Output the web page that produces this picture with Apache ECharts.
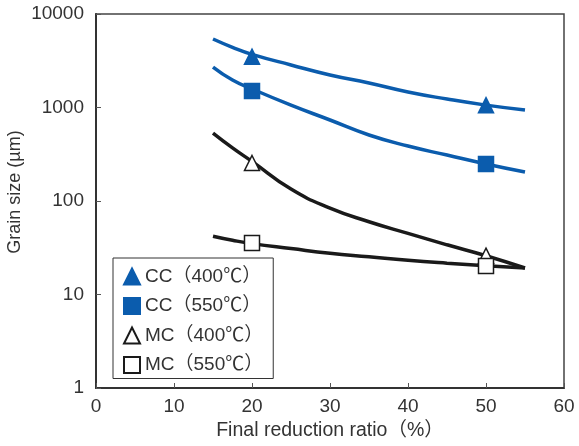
<!DOCTYPE html>
<html>
<head>
<meta charset="utf-8">
<script src="https://cdn.jsdelivr.net/npm/echarts@6/dist/echarts.min.js"></script>
<style>
  html, body { margin: 0; padding: 0; background: #fff; }
  #main { width: 579px; height: 446px; }
</style>
</head>
<body>
<div id="main"></div>
<script>
  // x positions of the fitted curves (final reduction ratio, %)
  const curveX = [15, 17.5, 20, 25, 30, 35, 40, 45, 50, 55];
  // grain size along each curve (µm)
  const cc400Curve = [5400, 4400, 3700, 2850, 2230, 1830, 1465, 1232, 1060, 940];
  const cc550Curve = [2710, 1970, 1580, 1060, 735, 508, 387, 310, 249, 204];
  const mc400Curve = [533, 370, 265, 134, 84, 60, 45, 34, 26, 19.2];
  const mc550Curve = [42, 38, 35, 31, 27.6, 25.3, 23.2, 21.6, 20.3, 19.2];

  // measured points
  const pointX = [20, 50];
  const cc400Points = [3500, 1060];
  const cc550Points = [1500, 249];
  const mc400Points = [255, 26];
  const mc550Points = [35.5, 20.2];

  const seriesNames = ["CC（400℃）", "CC（550℃）", "MC（400℃）", "MC（550℃）"];

  const blue = "#0b5cad";
  const black = "#1a1a1a";
  const font = "Liberation Sans, Arial, Noto Sans CJK JP, sans-serif";

  function pair(xs, ys) {
    return xs.map(function(x, i) {
      return [x, ys[i]];
    });
  }

  function curve(name, ys, color) {
    return {
      type: "line",
      name: name,
      data: pair(curveX, ys),
      smooth: true,
      showSymbol: false,
      lineStyle: { color: color, width: 3.5 },
      z: 2,
      silent: true
    };
  }

  function points(name, ys, symbol, fill, border) {
    return {
      type: "scatter",
      name: name,
      data: pair(pointX, ys),
      symbol: symbol,
      symbolSize: 15,
      itemStyle: { color: fill, borderColor: border, borderWidth: 1.5, opacity: 1 },
      z: 5
    };
  }

  const chart = echarts.init(document.getElementById("main"), null, { renderer: "canvas" });

  const option = {
    animation: false,
    textStyle: { fontFamily: font },
    grid: {
      left: 96,
      right: 15,
      top: 14,
      bottom: 58,
      containLabel: false,
      outerBoundsMode: "none",
      show: true,
      borderColor: "#444",
      borderWidth: 1.5
    },
    legend: {
      data: seriesNames,
      orient: "vertical",
      left: 113,
      top: 258,
      itemWidth: 16,
      itemHeight: 16,
      itemGap: 10.5,
      padding: [9, 10, 4, 10],
      borderColor: "#333",
      borderWidth: 1,
      backgroundColor: "#fff",
      textStyle: { fontSize: 19, color: "#333", fontFamily: font, width: 109, overflow: "none" }
    },
    xAxis: {
      type: "value",
      min: 0,
      max: 60,
      interval: 10,
      name: "Final reduction ratio（%）",
      nameLocation: "middle",
      nameGap: 33,
      nameTextStyle: { fontSize: 19.5, color: "#333" },
      axisLine: { lineStyle: { color: "#333", width: 2 } },
      axisTick: { inside: true, length: 5, lineStyle: { color: "#555" } },
      axisLabel: { fontSize: 19, color: "#333", margin: 9 },
      splitLine: { show: false }
    },
    yAxis: {
      type: "log",
      logBase: 10,
      min: 1,
      max: 10000,
      name: "Grain size (µm)",
      nameLocation: "middle",
      nameGap: 72,
      nameMoveOverlap: false,
      nameTextStyle: { fontSize: 18, color: "#333", padding: [0, 0, 0, 18] },
      axisLine: { lineStyle: { color: "#333", width: 2 } },
      axisTick: { inside: true, length: 5, lineStyle: { color: "#555" } },
      axisLabel: {
        fontSize: 19,
        color: "#333",
        margin: 12,
        formatter: function(v) {
          return String(v);
        }
      },
      splitLine: { show: false },
      minorTick: { show: false }
    },
    series: [
      curve("cc400 curve", cc400Curve, blue),
      curve("cc550 curve", cc550Curve, blue),
      curve("mc400 curve", mc400Curve, black),
      curve("mc550 curve", mc550Curve, black),
      points(seriesNames[0], cc400Points, "triangle", blue, blue),
      points(seriesNames[1], cc550Points, "rect", blue, blue),
      points(seriesNames[2], mc400Points, "triangle", "#fff", black),
      points(seriesNames[3], mc550Points, "rect", "#fff", black)
    ]
  };

  chart.setOption(option);
</script>
</body>
</html>
